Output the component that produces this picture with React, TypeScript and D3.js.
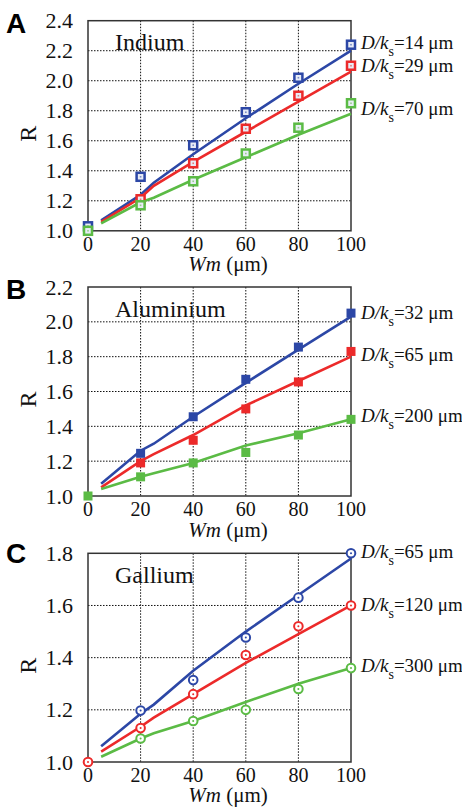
import React from "react";
import * as d3 from "d3";

const markerX = [0, 20, 40, 60, 80, 100];
const fitX = [5, 20, 25, 40, 60, 80, 100];
const xTicks = [0, 20, 40, 60, 80, 100];

// Panel A – Indium
const indiumBlue = [1.03, 1.36, 1.57, 1.79, 2.02, 2.24];
const indiumRed = [null, 1.21, 1.45, 1.68, 1.9, 2.1];
const indiumGreen = [1.0, 1.17, 1.33, 1.515, 1.687, 1.85];
const indiumBlueFit = [1.07, 1.24, 1.32, 1.51, 1.75, 1.98, 2.2];
const indiumRedFit = [1.06, 1.22, 1.3, 1.46, 1.66, 1.86, 2.06];
const indiumGreenFit = [1.05, 1.19, 1.22, 1.34, 1.49, 1.64, 1.78];
const indiumTicks = [1.0, 1.2, 1.4, 1.6, 1.8, 2.0, 2.2, 2.4];
const indiumLegend = ["14", "29", "70"];

// Panel B – Aluminium
const aluBlue = [null, 1.245, 1.455, 1.67, 1.855, 2.05];
const aluRed = [null, 1.19, 1.32, 1.5, 1.655, 1.83];
const aluGreen = [1.0, 1.11, 1.19, 1.25, 1.35, 1.44];
const aluBlueFit = [1.07, 1.26, 1.3, 1.455, 1.65, 1.84, 2.03];
const aluRedFit = [1.05, 1.2, 1.24, 1.35, 1.52, 1.66, 1.8];
const aluGreenFit = [1.04, 1.11, 1.13, 1.19, 1.29, 1.36, 1.44];
const aluTicks = [1.0, 1.2, 1.4, 1.6, 1.8, 2.0, 2.2];
const aluLegend = ["32", "65", "200"];

// Panel C – Gallium
const galBlue = [null, 1.197, 1.314, 1.477, 1.63, 1.8];
const galRed = [1.0, 1.13, 1.26, 1.41, 1.52, 1.6];
const galGreen = [null, 1.09, 1.157, 1.2, 1.28, 1.36];
const galBlueFit = [1.06, 1.185, 1.22, 1.35, 1.5, 1.64, 1.78];
const galRedFit = [1.04, 1.135, 1.17, 1.26, 1.38, 1.49, 1.6];
const galGreenFit = [1.02, 1.09, 1.11, 1.157, 1.23, 1.3, 1.36];
const galTicks = [1.0, 1.2, 1.4, 1.6, 1.8];
const galLegend = ["65", "120", "300"];

const BLUE = "#2c47a6";
const RED = "#ec2a2a";
const GREEN = "#5bbb45";
const SERIF = "'Liberation Serif', 'Times New Roman', serif";

type PanelProps = {
  letter: string;
  title: string;
  top: number;
  bottom: number;
  yMax: number;
  yTicks: number[];
  series: { marks: (number | null)[]; fit: number[]; color: string }[];
  marker: "hollowSquare" | "square" | "circle";
  legend: string[];
  legendY: number[];
  titleY: number;
  axisTitleY: number;
  letterY: number;
};

const LEFT = 88;
const RIGHT = 351;

function Marker({ kind, x, y, color }: { kind: string; x: number; y: number; color: string }) {
  if (kind === "square") {
    return <rect x={x - 4.5} y={y - 4.5} width={9} height={9} fill={color} />;
  }
  if (kind === "hollowSquare") {
    return (
      <g>
        <rect x={x - 4} y={y - 4} width={8} height={8} fill="#e8ecf6" stroke={color} strokeWidth={2.5} />
        <rect x={x - 0.8} y={y - 0.8} width={1.6} height={1.6} fill={color} opacity={0.6} />
      </g>
    );
  }
  return (
    <g>
      <circle cx={x} cy={y} r={4.3} fill="white" stroke={color} strokeWidth={2} />
      <circle cx={x} cy={y} r={1} fill={color} />
    </g>
  );
}

function Panel(p: PanelProps) {
  const x = d3.scaleLinear().domain([0, 100]).range([LEFT, RIGHT]);
  const y = d3.scaleLinear().domain([1.0, p.yMax]).range([p.bottom, p.top]);
  const line = d3
    .line<number>()
    .x((_, i) => x(fitX[i]))
    .y((d) => y(d));
  return (
    <g>
      {xTicks.slice(1, -1).map((t) => (
        <line key={"gx" + t} x1={x(t)} x2={x(t)} y1={p.top} y2={p.bottom} stroke="#111" strokeWidth={1} strokeDasharray="1.5,1.5" />
      ))}
      {p.yTicks.slice(1, -1).map((t) => (
        <line key={"gy" + t} x1={LEFT} x2={RIGHT} y1={y(t)} y2={y(t)} stroke="#111" strokeWidth={1} strokeDasharray="1.5,1.5" />
      ))}
      <rect x={LEFT} y={p.top} width={RIGHT - LEFT} height={p.bottom - p.top} fill="none" stroke="#333" strokeWidth={1.5} />
      {p.yTicks.map((t) => (
        <text key={"ty" + t} x={73} y={y(t) + 7.5} textAnchor="end" fontFamily={SERIF} fontSize={22} fill="#111">
          {t.toFixed(1)}
        </text>
      ))}
      {xTicks.map((t) => (
        <text key={"tx" + t} x={x(t)} y={p.bottom + 20} textAnchor="middle" fontFamily={SERIF} fontSize={20} fill="#111">
          {t}
        </text>
      ))}
      <text
        x={0}
        y={0}
        transform={`translate(36, ${(p.top + p.bottom) / 2 + 8}) rotate(-90)`}
        textAnchor="middle"
        fontFamily={SERIF}
        fontSize={24}
        fill="#111"
      >
        R
      </text>
      <text x={228} y={p.axisTitleY} textAnchor="middle" fontFamily={SERIF} fontSize={21} fill="#111">
        <tspan fontStyle="italic">Wm</tspan> (μm)
      </text>
      <text x={6} y={p.letterY} fontFamily="'Liberation Sans', Arial, sans-serif" fontWeight="bold" fontSize={28} fill="#000">
        {p.letter}
      </text>
      <text x={115} y={p.titleY} fontFamily={SERIF} fontSize={24} fill="#111">
        {p.title}
      </text>
      {p.series.map((s, i) => (
        <path key={"f" + i} d={line(s.fit) || ""} fill="none" stroke={s.color} strokeWidth={2.6} />
      ))}
      {p.series.map((s, i) =>
        s.marks.map((v, j) =>
          v == null ? null : <Marker key={"m" + i + "-" + j} kind={p.marker} x={x(markerX[j])} y={y(v)} color={s.color} />
        )
      )}
      {p.legend.map((l, i) => (
        <text key={"l" + i} x={361} y={p.legendY[i]} fontFamily={SERIF} fontSize={19} fill="#111">
          <tspan fontStyle="italic">D/k</tspan>
          <tspan fontSize={14} dy={7}>s</tspan>
          <tspan dy={-7}>={l} μm</tspan>
        </text>
      ))}
    </g>
  );
}

export default function App() {
  return (
    <svg width={462} height={811} style={{ position: "absolute", left: 0, top: 0, background: "white" }}>
      <rect width={462} height={811} fill="white" />
      <Panel
        letter="A"
        title="Indium"
        top={20.7}
        bottom={230.8}
        yMax={2.4}
        yTicks={indiumTicks}
        marker="hollowSquare"
        series={[
          { marks: indiumBlue, fit: indiumBlueFit, color: BLUE },
          { marks: indiumRed, fit: indiumRedFit, color: RED },
          { marks: indiumGreen, fit: indiumGreenFit, color: GREEN },
        ]}
        legend={indiumLegend}
        legendY={[49, 72, 115]}
        titleY={50}
        axisTitleY={271}
        letterY={33}
      />
      <Panel
        letter="B"
        title="Aluminium"
        top={287}
        bottom={496}
        yMax={2.2}
        yTicks={aluTicks}
        marker="square"
        series={[
          { marks: aluBlue, fit: aluBlueFit, color: BLUE },
          { marks: aluRed, fit: aluRedFit, color: RED },
          { marks: aluGreen, fit: aluGreenFit, color: GREEN },
        ]}
        legend={aluLegend}
        legendY={[319, 361, 422]}
        titleY={317}
        axisTitleY={537}
        letterY={299}
      />
      <Panel
        letter="C"
        title="Gallium"
        top={553.3}
        bottom={762}
        yMax={1.8}
        yTicks={galTicks}
        marker="circle"
        series={[
          { marks: galBlue, fit: galBlueFit, color: BLUE },
          { marks: galGreen, fit: galGreenFit, color: GREEN },
          { marks: galRed, fit: galRedFit, color: RED },
        ]}
        legend={galLegend}
        legendY={[558, 611, 672]}
        titleY={583}
        axisTitleY={802}
        letterY={563}
      />
    </svg>
  );
}
